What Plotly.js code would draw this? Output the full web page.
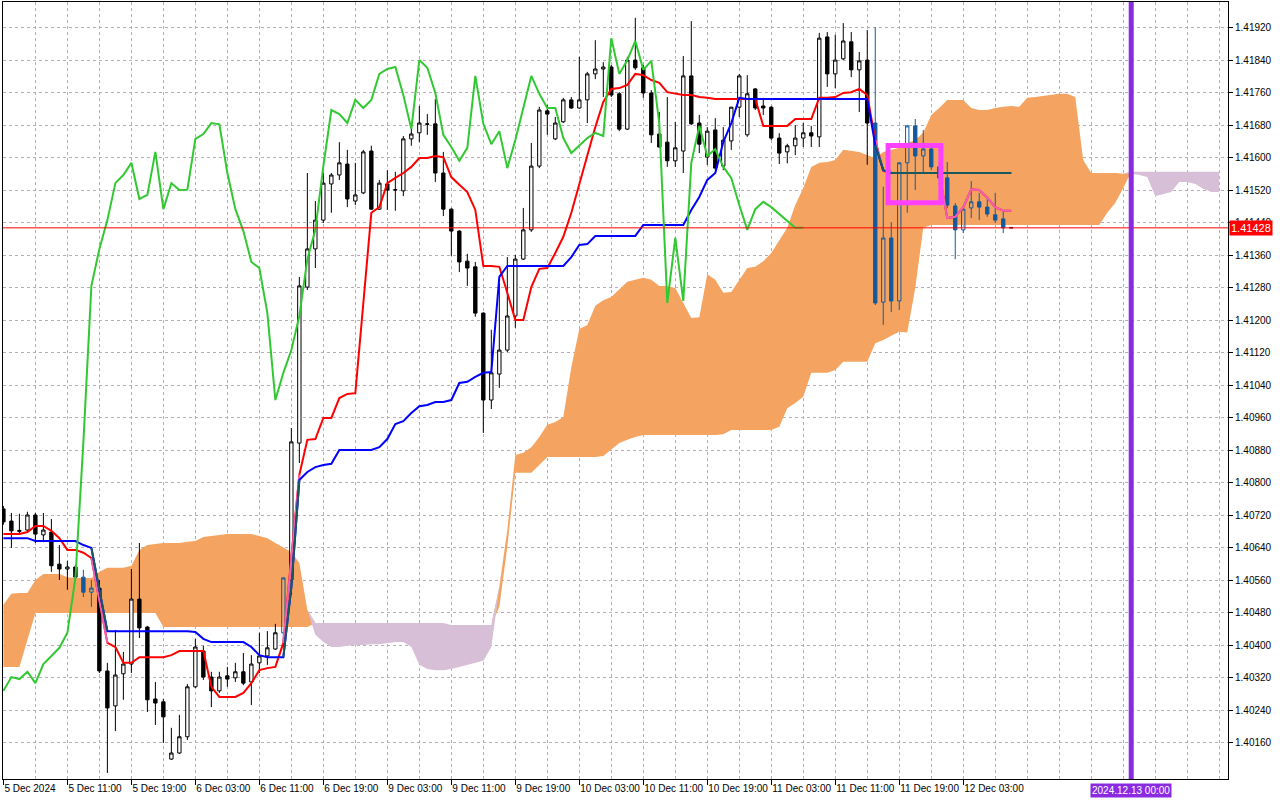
<!DOCTYPE html>
<html><head><meta charset="utf-8">
<script src="https://cdn.plot.ly/plotly-3.0.1.min.js"></script>
<style>html,body{margin:0;padding:0;background:#fff}#chart{width:1280px;height:800px}</style>
</head><body><div id="chart"></div>
<script>
// ---- Data (H1 chart, bars 0..126) ----
const xLabels = ["5 Dec 2024","5 Dec 11:00","5 Dec 19:00","6 Dec 03:00","6 Dec 11:00","6 Dec 19:00","9 Dec 03:00","9 Dec 11:00","9 Dec 19:00","10 Dec 03:00","10 Dec 11:00","10 Dec 19:00","11 Dec 03:00","11 Dec 11:00","11 Dec 19:00","12 Dec 03:00"];
const yLabels = ["1.40160","1.40240","1.40320","1.40400","1.40480","1.40560","1.40640","1.40720","1.40800","1.40880","1.40960","1.41040","1.41120","1.41200","1.41280","1.41360","1.41440","1.41520","1.41600","1.41680","1.41760","1.41840","1.41920"];

const open = [1.40736,1.40706,1.40683,1.40684,1.40721,1.40672,1.40679,1.40600,1.40588,1.40593,
1.40568,1.40531,1.40541,1.40337,1.40251,1.40330,1.40354,1.40514,1.40445,1.40268,
1.40261,1.40120,1.40135,1.40175,1.40298,1.40386,1.40322,1.40288,1.40325,1.40320,
1.40335,1.40310,1.40357,1.40374,1.40391,1.40431,1.40561,1.40898,1.41282,1.41376,
1.41447,1.41536,1.41558,1.41585,1.41494,1.41514,1.41617,1.41474,1.41536,1.41521,
1.41519,1.41647,1.41662,1.41684,1.41684,1.41563,1.41474,1.41420,1.41346,1.41332,
1.41218,1.41004,1.41068,1.41127,1.41211,1.41351,1.41423,1.41580,1.41716,1.41647,
1.41689,1.41743,1.41723,1.41743,1.41807,1.41819,1.41824,1.41758,1.41671,1.41841,
1.41822,1.41760,1.41659,1.41639,1.41593,1.41617,1.41802,1.41686,1.41602,1.41669,
1.41580,1.41642,1.41725,1.41657,1.41770,1.41728,1.41725,1.41649,1.41615,1.41630,
1.41649,1.41662,1.41652,1.41898,1.41807,1.41844,1.41886,1.41817,1.41841,1.41686,
1.41245,1.41403,1.41248,1.41588,1.41679,1.41605,1.41622,1.41578,1.41551,1.41482,
1.41423,1.41477,1.41492,1.41479,1.41460,1.41450,1.41429];

const high = [1.40743,1.40726,1.40724,1.40729,1.40726,1.40726,1.40711,1.40647,1.40608,1.40598,
1.40586,1.40561,1.40561,1.40357,1.40438,1.40384,1.40588,1.40652,1.40448,1.40310,
1.40268,1.40197,1.40229,1.40305,1.40416,1.40399,1.40335,1.40335,1.40347,1.40357,
1.40381,1.40376,1.40431,1.40435,1.40453,1.40568,1.40935,1.41307,1.41563,1.41494,
1.41563,1.41563,1.41639,1.41620,1.41588,1.41620,1.41630,1.41546,1.41570,1.41566,
1.41654,1.41681,1.41728,1.41708,1.41745,1.41615,1.41476,1.41422,1.41364,1.41344,
1.41220,1.41177,1.41292,1.41356,1.41361,1.41477,1.41637,1.41726,1.41730,1.41701,
1.41748,1.41750,1.41849,1.41812,1.41890,1.41836,1.41829,1.41762,1.41849,1.41945,
1.41829,1.41767,1.41713,1.41750,1.41689,1.41851,1.41937,1.41706,1.41676,1.41698,
1.41676,1.41726,1.41807,1.41804,1.41772,1.41748,1.41728,1.41661,1.41635,1.41681,
1.41686,1.41679,1.41908,1.41910,1.41903,1.41932,1.41910,1.41861,1.41915,1.41922,
1.41529,1.41442,1.41590,1.41681,1.41696,1.41669,1.41627,1.41583,1.41590,1.41489,
1.41479,1.41543,1.41514,1.41499,1.41514,1.41467,1.41430];

const low = [1.40697,1.40640,1.40672,1.40682,1.40652,1.40654,1.40581,1.40561,1.40537,1.40561,
1.40519,1.40495,1.40332,1.40086,1.40189,1.40266,1.40332,1.40418,1.40236,1.40204,
1.40160,1.40118,1.40133,1.40167,1.40295,1.40315,1.40248,1.40283,1.40298,1.40310,
1.40302,1.40253,1.40332,1.40352,1.40389,1.40396,1.40524,1.40849,1.41275,1.41329,
1.41440,1.41465,1.41546,1.41479,1.41484,1.41511,1.41472,1.41472,1.41472,1.41470,
1.41506,1.41630,1.41639,1.41657,1.41541,1.41457,1.41359,1.41319,1.41285,1.41209,
1.40923,1.40982,1.41034,1.41122,1.41182,1.41349,1.41418,1.41575,1.41657,1.41644,
1.41686,1.41721,1.41721,1.41686,1.41794,1.41750,1.41750,1.41666,1.41669,1.41817,
1.41748,1.41637,1.41625,1.41578,1.41578,1.41563,1.41681,1.41612,1.41583,1.41570,
1.41570,1.41620,1.41701,1.41652,1.41718,1.41706,1.41644,1.41585,1.41587,1.41607,
1.41627,1.41627,1.41627,1.41775,1.41772,1.41841,1.41799,1.41713,1.41583,1.41238,
1.41189,1.41221,1.41226,1.41465,1.41521,1.41563,1.41570,1.41546,1.41477,1.41351,
1.41415,1.41452,1.41447,1.41455,1.41440,1.41415,1.41427];

const close = [1.40704,1.40682,1.40681,1.40721,1.40674,1.40684,1.40596,1.40588,1.40593,1.40568,
1.40531,1.40541,1.40337,1.40246,1.40327,1.40354,1.40514,1.40443,1.40266,1.40258,
1.40224,1.40135,1.40175,1.40298,1.40396,1.40322,1.40288,1.40322,1.40317,1.40335,
1.40307,1.40354,1.40374,1.40394,1.40431,1.40566,1.40901,1.41285,1.41376,1.41447,
1.41538,1.41558,1.41588,1.41499,1.41509,1.41615,1.41474,1.41538,1.41521,1.41522,
1.41647,1.41659,1.41686,1.41683,1.41563,1.41474,1.41420,1.41344,1.41329,1.41218,
1.41004,1.41071,1.41127,1.41211,1.41351,1.41423,1.41580,1.41718,1.41708,1.41686,
1.41743,1.41723,1.41743,1.41807,1.41819,1.41824,1.41755,1.41671,1.41841,1.41822,
1.41760,1.41657,1.41627,1.41593,1.41625,1.41802,1.41684,1.41634,1.41666,1.41575,
1.41644,1.41725,1.41802,1.41758,1.41723,1.41723,1.41649,1.41612,1.41630,1.41649,
1.41662,1.41654,1.41895,1.41807,1.41841,1.41888,1.41817,1.41839,1.41686,1.41243,
1.41403,1.41248,1.41588,1.41679,1.41605,1.41622,1.41578,1.41551,1.41484,1.41423,
1.41474,1.41492,1.41479,1.41462,1.41447,1.41428,1.41428];

// Tenkan-sen (red), bars 0..126
const tenkan = [1.40674,1.40674,1.40674,1.40679,1.40694,1.40694,1.40682,1.40664,1.40635,1.40635,
1.40628,1.40615,1.40512,1.40406,1.40396,1.40357,1.40357,1.40371,1.40371,1.40371,
1.40371,1.40376,1.40386,1.40386,1.40386,1.40386,1.40298,1.40273,1.40273,1.40273,
1.40283,1.40307,1.40339,1.40344,1.40347,1.40406,1.40618,1.40820,1.40906,1.40908,
1.40960,1.40960,1.41009,1.41019,1.41021,1.41250,1.41465,1.41479,1.41538,1.41551,
1.41563,1.41578,1.41600,1.41600,1.41605,1.41602,1.41553,1.41534,1.41516,1.41472,
1.41334,1.41334,1.41332,1.41268,1.41201,1.41201,1.41282,1.41327,1.41329,1.41366,
1.41406,1.41465,1.41534,1.41602,1.41676,1.41738,1.41770,1.41772,1.41780,1.41807,
1.41804,1.41792,1.41785,1.41762,1.41758,1.41755,1.41755,1.41750,1.41748,1.41745,
1.41745,1.41745,1.41745,1.41745,1.41745,1.41679,1.41679,1.41679,1.41679,1.41696,
1.41696,1.41696,1.41748,1.41748,1.41750,1.41760,1.41762,1.41770,1.41755,1.41644,
1.41568,1.41563,1.41563,1.41563,1.41563,1.41563,1.41563,1.41563,1.41452,1.41455,
1.41479,1.41523,1.41521,1.41502,1.41479,1.41470,1.41470];

// Kijun-sen (blue), bars 0..126
const kijun = [1.40664,1.40664,1.40664,1.40664,1.40657,1.40657,1.40657,1.40657,1.40657,1.40657,
1.40647,1.40640,1.40536,1.40435,1.40435,1.40435,1.40435,1.40435,1.40435,1.40435,
1.40435,1.40435,1.40435,1.40435,1.40433,1.40416,1.40408,1.40408,1.40408,1.40408,
1.40408,1.40396,1.40376,1.40371,1.40371,1.40371,1.40544,1.40807,1.40827,1.40839,
1.40844,1.40847,1.40881,1.40881,1.40881,1.40881,1.40881,1.40888,1.40908,1.40945,
1.40952,1.40972,1.40989,1.40992,1.40999,1.40999,1.41004,1.41046,1.41049,1.41061,
1.41071,1.41073,1.41307,1.41334,1.41334,1.41334,1.41334,1.41334,1.41334,1.41334,
1.41334,1.41356,1.41386,1.41388,1.41408,1.41408,1.41408,1.41408,1.41408,1.41408,
1.41435,1.41435,1.41435,1.41435,1.41435,1.41435,1.41472,1.41504,1.41546,1.41563,
1.41639,1.41686,1.41748,1.41745,1.41745,1.41745,1.41745,1.41745,1.41745,1.41745,
1.41745,1.41745,1.41745,1.41745,1.41745,1.41745,1.41745,1.41745,1.41745,1.41632,
1.41570,1.41563,1.41563,1.41563,1.41563,1.41563,1.41563,1.41563,1.41563,1.41563,
1.41563,1.41563,1.41563,1.41563,1.41563,1.41563,1.41563];

// Senkou Span A / B (shifted 26 bars forward), bars 0..152
const spanA = [1.40500,1.40527,1.40529,1.40529,1.40561,1.40576,1.40576,1.40576,1.40568,1.40566,
1.40566,1.40566,1.40581,1.40591,1.40591,1.40591,1.40596,1.40635,1.40647,1.40650,
1.40652,1.40652,1.40652,1.40655,1.40657,1.40667,1.40669,1.40672,1.40674,1.40674,
1.40674,1.40674,1.40669,1.40664,1.40652,1.40640,1.40630,1.40603,1.40487,1.40426,
1.40408,1.40396,1.40396,1.40399,1.40401,1.40401,1.40403,1.40403,1.40406,1.40408,
1.40408,1.40396,1.40352,1.40342,1.40339,1.40339,1.40342,1.40347,1.40352,1.40357,
1.40362,1.40396,1.40544,1.40684,1.40869,1.40874,1.40888,1.40913,1.40943,1.40950,
1.40962,1.41085,1.41179,1.41189,1.41236,1.41250,1.41258,1.41277,1.41295,1.41300,
1.41305,1.41300,1.41285,1.41285,1.41280,1.41243,1.41206,1.41208,1.41314,1.41300,
1.41268,1.41270,1.41300,1.41329,1.41332,1.41346,1.41366,1.41398,1.41428,1.41484,
1.41526,1.41578,1.41588,1.41590,1.41595,1.41620,1.41617,1.41615,1.41607,1.41600,
1.41615,1.41620,1.41625,1.41637,1.41644,1.41662,1.41706,1.41723,1.41743,1.41743,
1.41743,1.41723,1.41718,1.41718,1.41723,1.41726,1.41728,1.41726,1.41748,1.41750,
1.41753,1.41755,1.41758,1.41758,1.41750,1.41595,1.41563,1.41563,1.41563,1.41563,
1.41561,1.41561,1.41558,1.41553,1.41506,1.41511,1.41516,1.41541,1.41541,1.41536,
1.41524,1.41516,1.41516];

const spanB = [1.40347,1.40347,1.40347,1.40413,1.40480,1.40480,1.40480,1.40480,1.40480,1.40480,
1.40480,1.40480,1.40480,1.40480,1.40480,1.40480,1.40480,1.40480,1.40480,1.40480,
1.40445,1.40445,1.40445,1.40445,1.40445,1.40445,1.40445,1.40445,1.40445,1.40445,
1.40445,1.40445,1.40445,1.40445,1.40445,1.40445,1.40445,1.40445,1.40445,1.40455,
1.40455,1.40455,1.40455,1.40455,1.40455,1.40455,1.40455,1.40455,1.40455,1.40455,
1.40455,1.40455,1.40455,1.40455,1.40455,1.40455,1.40450,1.40450,1.40450,1.40450,
1.40450,1.40450,1.40495,1.40642,1.40825,1.40825,1.40825,1.40844,1.40864,1.40864,
1.40864,1.40864,1.40864,1.40864,1.40864,1.40866,1.40881,1.40898,1.40906,1.40913,
1.40918,1.40918,1.40918,1.40918,1.40918,1.40918,1.40918,1.40918,1.40918,1.40918,
1.40920,1.40930,1.40930,1.40930,1.40930,1.40930,1.40930,1.40938,1.40984,1.40997,
1.41012,1.41071,1.41071,1.41071,1.41078,1.41098,1.41098,1.41098,1.41098,1.41144,
1.41152,1.41162,1.41172,1.41170,1.41280,1.41428,1.41435,1.41435,1.41435,1.41435,
1.41435,1.41435,1.41435,1.41435,1.41435,1.41435,1.41435,1.41435,1.41435,1.41435,
1.41435,1.41435,1.41435,1.41435,1.41435,1.41435,1.41435,1.41435,1.41465,1.41489,
1.41526,1.41566,1.41566,1.41566,1.41566,1.41566,1.41566,1.41566,1.41566,1.41566,
1.41566,1.41566,1.41566];

const bidPrice = 1.41428;
const futureLabel = "2024.12.13 00:00";
const futureBar = 141;

// ---- Build traces ----
const bars = open.map((_, i) => i);
const cloudX = spanA.map((_, i) => i);
const cloudTop = spanA.map((a, i) => Math.max(a, spanB[i]));
const chikou = close.slice(26);
const chikouX = chikou.map((_, i) => i);

function insideCloud(v, i) {
  const lo = Math.min(spanA[i], spanB[i]), hi = Math.max(spanA[i], spanB[i]);
  return v > lo && v < hi && spanA[i] > spanB[i];
}
const inCloud = bars.map(i => insideCloud((open[i] + close[i]) / 2, i));
function pick(arr, flag) { return bars.filter(i => inCloud[i] === flag).map(i => arr[i]); }
function overlay(vals) {
  const ins = vals.map((v, i) => insideCloud(v, i));
  return vals.map((v, i) => (ins[i] || ins[i - 1] || ins[i + 1]) ? v : null);
}

const CLOUD_BLUE = '#14599f';
const ov = {xaxis: 'x2', yaxis: 'y2'};
const traces = [
  // Kumo on the base axes (drawn underneath)
  {x: cloudX, y: spanB, mode: 'lines', line: {width: 0}, hoverinfo: 'skip', showlegend: false},
  {x: cloudX, y: cloudTop, mode: 'lines', line: {width: 0}, fill: 'tonexty', fillcolor: '#F4A460', hoverinfo: 'skip', showlegend: false},
  {x: cloudX, y: spanA, mode: 'lines', line: {width: 0}, hoverinfo: 'skip', showlegend: false},
  {x: cloudX, y: cloudTop, mode: 'lines', line: {width: 0}, fill: 'tonexty', fillcolor: '#D8BFD8', hoverinfo: 'skip', showlegend: false},
  // Price and lines on the overlaying axes (drawn on top)
  Object.assign({type: 'candlestick', x: pick(bars, false), open: pick(open, false), high: pick(high, false), low: pick(low, false), close: pick(close, false),
   increasing: {line: {color: '#000000', width: 1}, fillcolor: '#ffffff'},
   decreasing: {line: {color: '#000000', width: 1}, fillcolor: '#000000'},
   whiskerwidth: 0, showlegend: false, hoverinfo: 'skip'}, ov),
  Object.assign({type: 'candlestick', x: pick(bars, true), open: pick(open, true), high: pick(high, true), low: pick(low, true), close: pick(close, true),
   increasing: {line: {color: CLOUD_BLUE, width: 1}, fillcolor: 'rgba(0,0,0,0)'},
   decreasing: {line: {color: CLOUD_BLUE, width: 1}, fillcolor: CLOUD_BLUE},
   whiskerwidth: 0, showlegend: false, hoverinfo: 'skip'}, ov),
  Object.assign({x: bars, y: tenkan, mode: 'lines', line: {color: '#ff0000', width: 2}, showlegend: false, hoverinfo: 'skip'}, ov),
  Object.assign({x: bars, y: overlay(tenkan), mode: 'lines', line: {color: '#f062b4', width: 2}, connectgaps: false, showlegend: false, hoverinfo: 'skip'}, ov),
  Object.assign({x: bars, y: kijun, mode: 'lines', line: {color: '#0000ff', width: 2}, showlegend: false, hoverinfo: 'skip'}, ov),
  Object.assign({x: bars, y: overlay(kijun), mode: 'lines', line: {color: '#17595e', width: 2}, connectgaps: false, showlegend: false, hoverinfo: 'skip'}, ov),
  Object.assign({x: chikouX, y: chikou, mode: 'lines', line: {color: '#32c832', width: 2}, showlegend: false, hoverinfo: 'skip'}, ov)
];

const GRID = 'rgb(185,170,190)';
const FONT = {family: 'Liberation Sans, Arial, sans-serif', size: 10, color: '#000000'};
const X_RANGE = [-0.05, 153.1];
const Y_RANGE = [1.40071, 1.41984];
const layout = {
  width: 1280, height: 800,
  margin: {l: 3, r: 52, t: 2, b: 21, pad: 0},
  paper_bgcolor: '#ffffff', plot_bgcolor: '#ffffff',
  showlegend: false, hovermode: false, boxgap: 0.4,
  font: FONT,
  xaxis: {
    type: 'linear', range: X_RANGE, fixedrange: true,
    rangeslider: {visible: false},
    tickmode: 'array', tickvals: xLabels.map((_, k) => k * 8), ticktext: xLabels,
    tickangle: 0, automargin: false,
    ticks: 'outside', ticklen: 5, tickcolor: '#000000', tickwidth: 1,
    ticklabelposition: 'outside right', tickfont: FONT,
    showgrid: true, gridcolor: GRID, griddash: '3px,3px', gridwidth: 1,
    minor: {tickmode: 'linear', tick0: 0, dtick: 4, showgrid: true, gridcolor: GRID, griddash: '3px,3px', gridwidth: 1, ticks: ''},
    showline: true, mirror: true, linecolor: '#000000', linewidth: 1, zeroline: false
  },
  yaxis: {
    side: 'right', range: Y_RANGE, fixedrange: true, automargin: false,
    tickmode: 'array', tickvals: yLabels.map(Number), ticktext: yLabels,
    ticks: 'outside', ticklen: 4, tickcolor: '#000000', tickfont: FONT,
    showgrid: true, gridcolor: GRID, griddash: '3px,3px', gridwidth: 1,
    showline: true, mirror: true, linecolor: '#000000', linewidth: 1, zeroline: false
  },
  xaxis2: {type: 'linear', overlaying: 'x', range: X_RANGE, fixedrange: true, visible: false, showgrid: false, zeroline: false, rangeslider: {visible: false}},
  yaxis2: {overlaying: 'y', side: 'right', range: Y_RANGE, fixedrange: true, visible: false, showgrid: false, zeroline: false},
  shapes: [
    {type: 'line', xref: 'paper', x0: 0, x1: 1, yref: 'y', y0: bidPrice, y1: bidPrice, line: {color: '#ff0000', width: 1}, layer: 'above'},
    {type: 'rect', xref: 'x', yref: 'y', x0: 110.6, x1: 117.2, y0: 1.41490, y1: 1.41631, line: {color: '#ff40ff', width: 5}, fillcolor: 'rgba(0,0,0,0)', layer: 'above'},
    {type: 'line', xref: 'x', x0: futureBar, x1: futureBar, yref: 'paper', y0: 0, y1: 1, line: {color: '#8a2be2', width: 5}, layer: 'above'}
  ],
  annotations: [
    {xref: 'paper', x: 1, xanchor: 'left', yref: 'y', y: bidPrice, yanchor: 'middle', text: bidPrice.toFixed(5),
     showarrow: false, bgcolor: '#ff0000', font: {family: FONT.family, size: 11, color: '#ffffff'}, borderpad: 1, xshift: 1},
    {xref: 'x', x: futureBar, xanchor: 'center', yref: 'paper', y: 0, yanchor: 'top', yshift: -4, text: futureLabel,
     showarrow: false, bgcolor: '#8a2be2', font: {family: FONT.family, size: 10, color: '#ffffff'}, borderpad: 1}
  ]
};

Plotly.newPlot('chart', traces, layout, {staticPlot: true, displayModeBar: false});
</script>
</body></html>
